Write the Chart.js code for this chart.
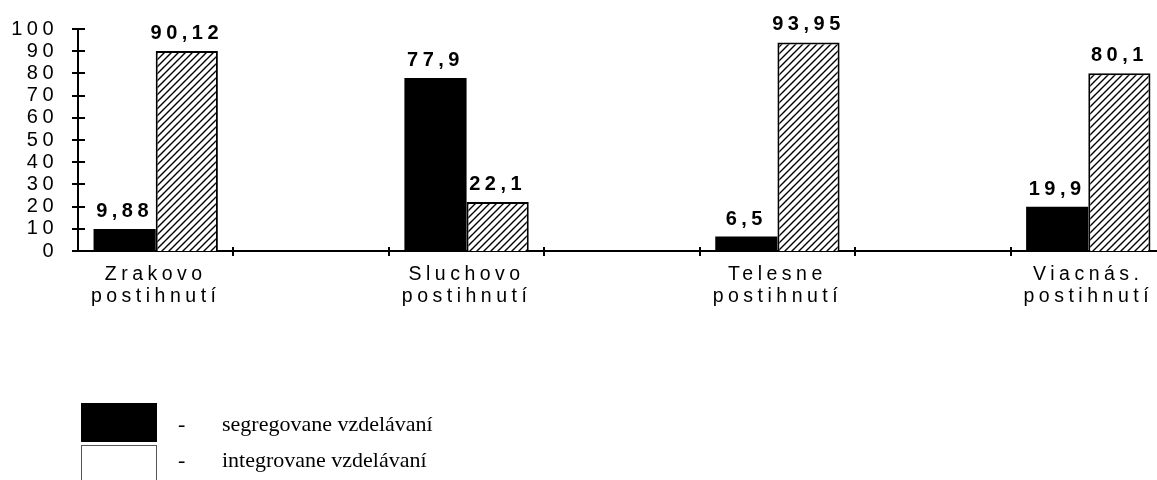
<!DOCTYPE html>
<html>
<head>
<meta charset="utf-8">
<script src="https://cdn.jsdelivr.net/npm/chart.js@4"></script>
<style>
  html, body { margin: 0; padding: 0; background: #fff; overflow: hidden; width: 1157px; height: 480px; }
  #wrap { position: absolute; left: 0; top: 0; width: 1180px; height: 480px; }
  .box { position: absolute; left: 81px; width: 76px; }
  .lg { position: absolute; font-family: 'Times New Roman', 'Liberation Serif', serif; font-size: 22px; line-height: 22px; color: #000; white-space: nowrap; }
</style>
</head>
<body>
<div id="wrap"><canvas id="barChart"></canvas></div>
<div class="box" style="top:403px;height:39px;background:#000;"></div>
<div class="box" style="top:445px;height:40px;border:1px solid #555;width:76px;box-sizing:border-box;"></div>
<div class="lg" style="left:178px;top:413px;">-</div>
<div class="lg" style="left:222px;top:413px;">segregovane vzdelávaní</div>
<div class="lg" style="left:178px;top:449px;">-</div>
<div class="lg" style="left:222px;top:449px;">integrovane vzdelávaní</div>
<script>
const categories = [
  ['Zrakovo', 'postihnutí'], '',
  ['Sluchovo', 'postihnutí'], '',
  ['Telesne', 'postihnutí'], '',
  ['Viacnás.', 'postihnutí']
];
const segregovane = [9.88, null, 77.9, null, 6.5, null, 19.9];
const integrovane = [90.12, null, 22.1, null, 93.95, null, 80.1];
const yTicks = [0, 10, 20, 30, 40, 50, 60, 70, 80, 90, 100];

// diagonal hatch for the second series
function makeHatch() {
  const c = document.createElement('canvas');
  c.width = 7; c.height = 7;
  const g = c.getContext('2d');
  g.fillStyle = '#fff';
  g.fillRect(0, 0, 7, 7);
  g.strokeStyle = '#000';
  g.lineWidth = 1.4;
  g.beginPath();
  g.moveTo(0, 7); g.lineTo(7, 0);
  g.moveTo(-1, 1); g.lineTo(1, -1);
  g.moveTo(6, 8); g.lineTo(8, 6);
  g.stroke();
  return g.createPattern(c, 'repeat');
}

const spacing = {
  id: 'spacing',
  beforeLayout(chart) { chart.ctx.letterSpacing = '4.5px'; },
  beforeDraw(chart) { chart.ctx.letterSpacing = '4.5px'; }
};

const marks = {
  id: 'marks',
  afterDraw(chart) {
    const ctx = chart.ctx, x = chart.scales.x, y = chart.scales.y;
    ctx.save();
    ctx.strokeStyle = '#000';
    ctx.lineWidth = 2;
    ctx.beginPath();
    y.ticks.forEach((t, i) => {
      const py = Math.round(y.getPixelForTick(i));
      ctx.moveTo(x.left - 6, py); ctx.lineTo(x.left + 7, py);
    });
    const half = (x.getPixelForValue(1) - x.getPixelForValue(0)) / 2;
    for (let i = 1; i <= categories.length; i++) {
      const px = Math.round(x.getPixelForValue(i) - half);
      ctx.moveTo(px, y.bottom - 4); ctx.lineTo(px, y.bottom + 5);
    }
    ctx.stroke();

    ctx.letterSpacing = '4.5px';
    ctx.font = 'bold 20px Arial, "Liberation Sans", sans-serif';
    ctx.fillStyle = '#000';
    ctx.textAlign = 'center';
    ctx.textBaseline = 'alphabetic';
    chart.data.datasets.forEach((ds, i) => {
      chart.getDatasetMeta(i).data.forEach((bar, j) => {
        const v = ds.data[j];
        if (v == null) return;
        ctx.fillText(String(v).replace('.', ','), bar.x, bar.y - 12);
      });
    });
    ctx.restore();
  }
};

const barConfig = {
  type: 'bar',
  data: {
    labels: categories,
    datasets: [
      { label: 'segregovane vzdelávaní', data: segregovane, backgroundColor: '#000', borderWidth: 0 },
      { label: 'integrovane vzdelávaní', data: integrovane, backgroundColor: makeHatch(), borderColor: '#000', borderWidth: 2 }
    ]
  },
  options: {
    responsive: true,
    maintainAspectRatio: false,
    animation: false,
    layout: { padding: { left: 0, top: 20, right: 14, bottom: 149 } },
    plugins: {
      legend: { display: false },
      tooltip: { enabled: false }
    },
    datasets: { bar: { categoryPercentage: 0.8, barPercentage: 1.0 } },
    scales: {
      x: {
        offset: true,
        grid: { display: false, drawTicks: false },
        border: { display: true, color: '#000', width: 2 },
        ticks: {
          color: '#000',
          padding: 13,
          maxRotation: 0,
          autoSkip: false,
          font: { family: 'Arial, "Liberation Sans", sans-serif', size: 19.5, lineHeight: 1.13 }
        },
        afterFit(scale) { scale.height = 80; }
      },
      y: {
        min: 0,
        max: 100,
        afterBuildTicks(scale) { scale.ticks = yTicks.map(v => ({ value: v })); },
        grid: { display: false, drawTicks: false },
        border: { display: true, color: '#000', width: 2 },
        ticks: {
          color: '#000',
          padding: 20,
          autoSkip: false,
          font: { family: 'Arial, "Liberation Sans", sans-serif', size: 20, lineHeight: 0.9 }
        },
        afterFit(scale) { scale.width = 78; }
      }
    }
  },
  plugins: [spacing, marks]
};

const myBarChart = new Chart(document.getElementById('barChart'), barConfig);
</script>
</body>
</html>
